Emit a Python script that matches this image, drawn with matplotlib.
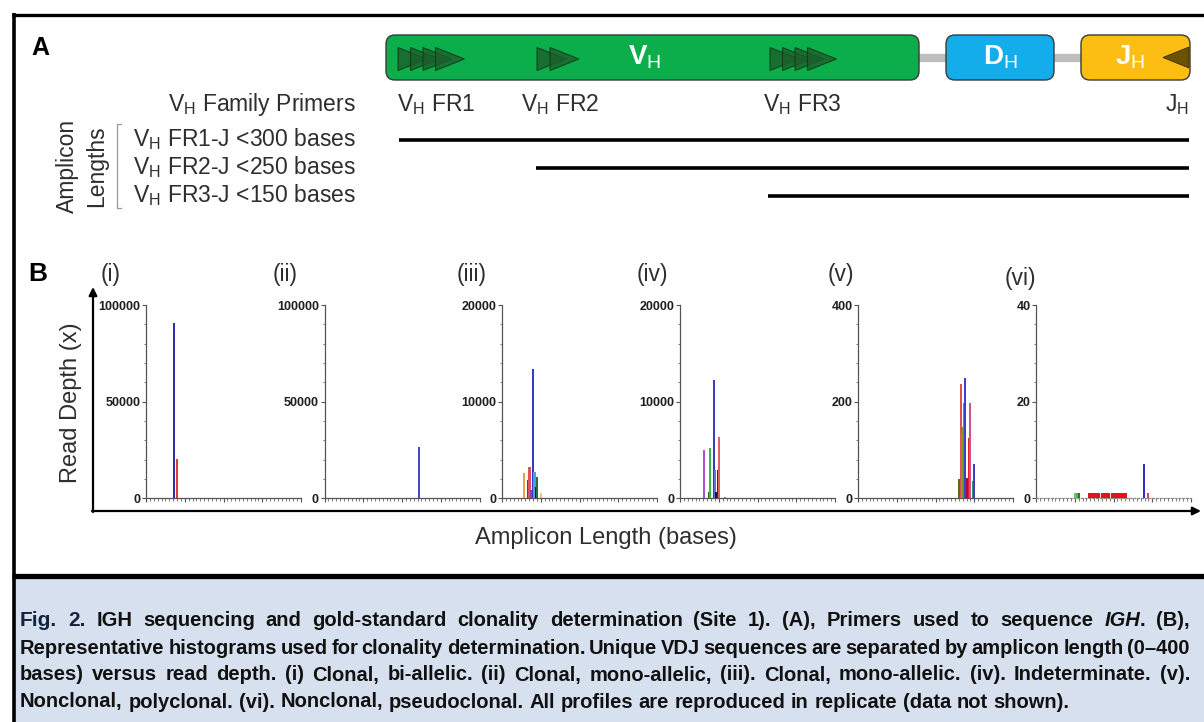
import matplotlib
matplotlib.use('Agg')
import matplotlib.pyplot as plt
from matplotlib import font_manager
from matplotlib.patches import FancyBboxPatch, Polygon, Rectangle
from matplotlib.ticker import MultipleLocator

names = {f.name for f in font_manager.fontManager.ttflist}
SANS = 'Liberation Sans' if 'Liberation Sans' in names else 'DejaVu Sans'
NARROW = 'Liberation Sans Narrow' if 'Liberation Sans Narrow' in names else SANS
plt.rcParams['font.family'] = [SANS, 'DejaVu Sans']
plt.rcParams['mathtext.fontset'] = 'custom'
plt.rcParams['mathtext.rm'] = SANS
plt.rcParams['mathtext.it'] = SANS + ':italic'
plt.rcParams['mathtext.bf'] = SANS + ':bold'

# ---------------- data ----------------
segment_labels = ['V$_{\\rm H}$', 'D$_{\\rm H}$', 'J$_{\\rm H}$']
primer_row_title = 'V$_{\\rm H}$ Family Primers'
primer_labels = ['V$_{\\rm H}$ FR1', 'V$_{\\rm H}$ FR2', 'V$_{\\rm H}$ FR3']
j_label = 'J$_{\\rm H}$'
amplicon_labels = ['V$_{\\rm H}$ FR1-J <300 bases',
                   'V$_{\\rm H}$ FR2-J <250 bases',
                   'V$_{\\rm H}$ FR3-J <150 bases']

panel_titles = ['(i)', '(ii)', '(iii)', '(iv)', '(v)', '(vi)']
panel_ymax = [100000, 100000, 20000, 20000, 400, 40]

pos_i = [73, 81]
depth_i = [90800, 20500]
col_i = ['#2E2EB0', '#E33A3A']

pos_ii = [243]
depth_ii = [26600]
col_ii = ['#4848C0']

pos_iii = [57, 68, 71, 75, 81, 84, 88, 90, 101]
depth_iii = [2650, 1900, 3270, 860, 13400, 2760, 1140, 2180, 550]
col_iii = ['#F0A040', '#B02020', '#E05060', '#8040C0', '#3A3AC8',
           '#4AA0E0', '#101060', '#2E6B3E', '#F5C080']

pos_iv = [63, 75, 78, 88, 91, 93, 97, 101, 116]
depth_iv = [5000, 690, 5240, 12190, 2900, 690, 2930, 6380, 120]
col_iv = ['#B050D0', '#1E6B2E', '#30C040', '#3A3AC8', '#6A6AE0',
          '#101060', '#801020', '#E06060', '#E06060']

pos_v = [262, 265, 269, 272, 275, 277, 281, 286, 289, 296, 300]
depth_v = [40, 237, 135, 148, 197, 249, 41, 125, 197, 36, 70]
col_v = ['#5A6A20', '#E05050', '#F07010', '#70A020', '#20A0A0', '#4040D0',
         '#A01040', '#E02020', '#D05090', '#2A9A70', '#4040C0']

pos_vi = [102, 105, 107, 110,
          136, 139, 142, 145, 148, 151, 154, 157, 160, 163,
          171, 174, 177, 180, 183, 186, 189,
          196, 199, 202, 205, 208, 211, 214, 217, 220, 223, 226, 229, 232,
          278, 288]
depth_vi = [1.2, 1, 1.2, 1] + [1.1] * 10 + [1.1] * 7 + [1.1] * 13 + [7.2, 1]
col_vi = ['#60D060', '#C09030', '#40C040', '#208020'] + ['#E81010'] * 30 + ['#3030C0', '#E04040']

panel_pos = [pos_i, pos_ii, pos_iii, pos_iv, pos_v, pos_vi]
panel_depth = [depth_i, depth_ii, depth_iii, depth_iv, depth_v, depth_vi]
panel_cols = [col_i, col_ii, col_iii, col_iv, col_v, col_vi]

caption_lines = [
    "Fig. 2. IGH sequencing and gold-standard clonality determination (Site 1). (A), Primers used to sequence IGH. (B),",
    "Representative histograms used for clonality determination. Unique VDJ sequences are separated by amplicon length (0\u2013400",
    "bases) versus read depth. (i) Clonal, bi-allelic. (ii) Clonal, mono-allelic, (iii). Clonal, mono-allelic. (iv). Indeterminate. (v).",
    "Nonclonal, polyclonal. (vi). Nonclonal, pseudoclonal. All profiles are reproduced in replicate (data not shown).",
]

# ---------------- figure ----------------
W, H = 1204, 722
fig = plt.figure(figsize=(W / 100, H / 100), dpi=100)
fig.patch.set_facecolor('white')
bg = fig.add_axes([0, 0, 1, 1])
bg.set_xlim(0, W)
bg.set_ylim(H, 0)
bg.axis('off')

TXT = '#2E2E2E'

# frame and caption background
bg.add_patch(Rectangle((13, 577), W - 13, H - 577, fc='#D6E0EE', ec='none', zorder=0))
bg.plot([12, W], [14.5, 14.5], color='k', lw=2.4, solid_capstyle='butt')
bg.plot([13.5, 13.5], [13, H], color='k', lw=2.6, solid_capstyle='butt')
bg.plot([12, W], [576, 576], color='k', lw=3.8, solid_capstyle='butt')

# ---------------- panel A ----------------
bg.text(40, 48, 'A', fontsize=18, fontweight='bold', ha='center', va='center', color='k')

box_y0, box_h = 35, 45
yc = box_y0 + box_h / 2
bg.plot([915, 950], [yc, yc], color='#BEBEBE', lw=6, zorder=1)
bg.plot([1050, 1085], [yc, yc], color='#BEBEBE', lw=6, zorder=1)
boxes = [(386, 533, '#0CAE4C', 645), (946, 108, '#12ADEA', 1000), (1081, 109, '#FDBE14', 1130)]
for (x0, w, c, tx), lab in zip(boxes, segment_labels):
    bg.add_patch(FancyBboxPatch((x0, box_y0), w, box_h, boxstyle='round,pad=0,rounding_size=9',
                                fc=c, ec='#3A3A3A', lw=1.0, zorder=2))
    bg.text(tx, yc, lab, color='white', fontsize=20, fontweight='bold', ha='center', va='center', zorder=4)

# primer arrows
tri_h, tri_w = 23, 29
tri_yc = yc + 1.5
for starts in ([398, 410.5, 423, 435.5], [537, 550], [770, 782.5, 795, 807.5]):
    for s in starts:
        bg.add_patch(Polygon([(s, tri_yc - tri_h / 2), (s + tri_w, tri_yc), (s, tri_yc + tri_h / 2)],
                             closed=True, fc='#1D5E2B', ec='#0E3516', lw=0.8, alpha=0.8, zorder=3))
bg.add_patch(Polygon([(1189, yc - 10.5), (1163, yc), (1189, yc + 10.5)], closed=True,
                     fc='#6B5200', ec='#3A2C00', lw=0.6, zorder=3))

FS_A = 16.5
bg.text(356, 105, primer_row_title, fontsize=FS_A, ha='right', va='center', color=TXT)
for x, lab in zip([397, 521, 763], primer_labels):
    bg.text(x, 105, lab, fontsize=FS_A, ha='left', va='center', color=TXT)
bg.text(1189, 105, j_label, fontsize=FS_A, ha='right', va='center', color=TXT)

row_y = [140, 168, 196]
row_x0 = [399, 536, 768]
for y, x0, lab in zip(row_y, row_x0, amplicon_labels):
    bg.text(356, y - 1, lab, fontsize=FS_A, ha='right', va='center', color=TXT)
    bg.plot([x0, 1189], [y, y], color='k', lw=2.6, solid_capstyle='butt')

bg.text(67, 166, 'Amplicon', rotation=90, fontsize=FS_A, ha='center', va='center', color=TXT)
bg.text(97, 166, 'Lengths', rotation=90, fontsize=FS_A, ha='center', va='center', color=TXT)
bg.plot([121, 117, 117, 121], [124, 124, 208, 208], color='#9A9A9A', lw=0.9)

# ---------------- panel B ----------------
bg.text(38, 274, 'B', fontsize=19, fontweight='bold', ha='center', va='center', color='k')
bg.annotate('', xy=(93, 287), xytext=(93, 512),
            arrowprops=dict(arrowstyle='-|>', lw=1.6, color='k', mutation_scale=12, shrinkA=0, shrinkB=0))
bg.annotate('', xy=(1201, 511), xytext=(92, 511),
            arrowprops=dict(arrowstyle='-|>', lw=1.6, color='k', mutation_scale=12, shrinkA=0, shrinkB=0))
bg.text(71, 403, 'Read Depth (x)', rotation=90, fontsize=17, ha='center', va='center', color=TXT)
bg.text(606, 538, 'Amplicon Length (bases)', fontsize=17, ha='center', va='center', color=TXT)

spine_x = [146, 324.5, 502, 680, 858, 1036]
title_x = [111, 285, 472, 652, 841, 1020]
title_y = [274, 274, 274, 274, 274, 279]
AX_W, Y0, YT = 155, 498.3, 305
for k in range(6):
    ax = fig.add_axes([spine_x[k] / W, (H - Y0) / H, AX_W / W, (Y0 - YT) / H])
    ax.patch.set_alpha(0)
    ax.bar(panel_pos[k], panel_depth[k], width=5.5, color=panel_cols[k], linewidth=0, zorder=3)
    ymax = panel_ymax[k]
    ax.set_xlim(0, 400)
    ax.set_ylim(0, ymax)
    for s in ['top', 'right']:
        ax.spines[s].set_visible(False)
    for s in ['left', 'bottom']:
        ax.spines[s].set_color('#555555')
        ax.spines[s].set_linewidth(0.9)
    if k == 5:
        ax.spines['bottom'].set_linestyle((0, (1.5, 1.5)))
        ax.spines['bottom'].set_color('#888888')
    yt = [0, ymax // 2, ymax]
    ax.set_yticks(yt, [str(v) for v in yt], fontsize=9, fontweight='bold', color='#1E1E1E')
    ax.yaxis.set_minor_locator(MultipleLocator(ymax / 10))
    ax.set_xticks([0, 100, 200, 300, 400], [])
    ax.xaxis.set_minor_locator(MultipleLocator(10))
    ax.tick_params(axis='both', which='major', length=3, width=0.8, color='#555555', pad=1)
    ax.tick_params(axis='both', which='minor', length=1.8, width=0.6, color='#666666')
    bg.text(title_x[k], title_y[k], panel_titles[k], fontsize=16.5, ha='center', va='center', color=TXT)

# ---------------- caption (justified) ----------------
CAP_FS = 14.5
styles = {
    'n': dict(family=[NARROW, 'DejaVu Sans'], fontweight='bold', color='#111111', fontsize=CAP_FS),
    'i': dict(family=[NARROW, 'DejaVu Sans'], fontweight='bold', style='italic', color='#111111', fontsize=CAP_FS),
    'f': dict(family=[NARROW, 'DejaVu Sans'], fontweight='bold', color='#14233F', fontsize=CAP_FS + 0.5),
}
special = {'Fig.': [('Fig.', 'f')], '2.': [('2.', 'f')], 'IGH.': [('IGH', 'i'), ('.', 'n')]}

renderer = fig.canvas.get_renderer()


def width_of(s, st):
    t = bg.text(0, 0, s, **styles[st])
    w = t.get_window_extent(renderer=renderer).width
    t.remove()
    return w


space_w = width_of('a a', 'n') - width_of('aa', 'n')
X0, X1 = 20, 1190
cap_y = [620, 648, 675, 702]
for li, (line, y) in enumerate(zip(caption_lines, cap_y)):
    words = line.split(' ')
    segs = [special.get(w, [(w, 'n')]) for w in words]
    widths = [[width_of(s, st) for s, st in sg] for sg in segs]
    total = sum(sum(ws) for ws in widths)
    if li < len(caption_lines) - 1:
        gap = (X1 - X0 - total) / (len(words) - 1)
    else:
        gap = space_w
    x = X0
    for sg, ws in zip(segs, widths):
        for (s, st), w in zip(sg, ws):
            bg.text(x, y, s, ha='left', va='center', **styles[st])
            x += w
        x += gap

fig.savefig('out.png', dpi=100)
